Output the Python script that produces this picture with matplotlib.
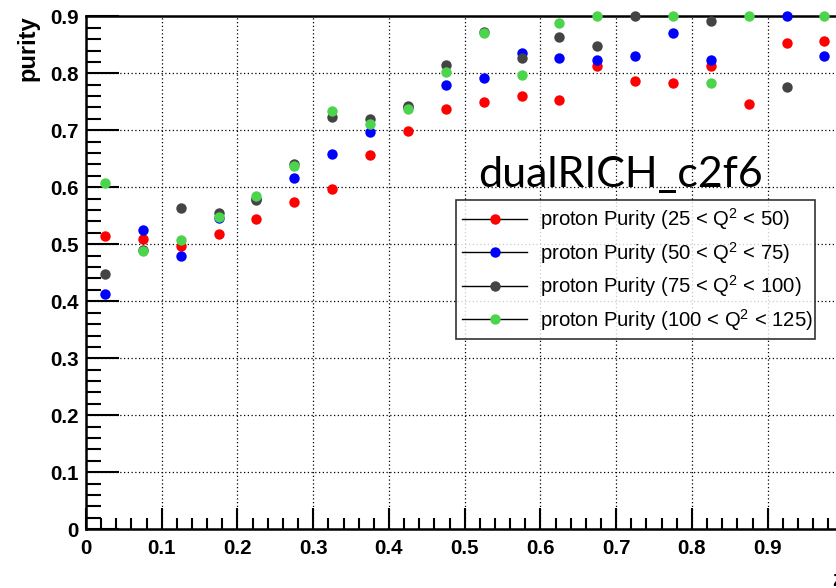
import numpy as np
import matplotlib
matplotlib.use("Agg")
import matplotlib.pyplot as plt
from matplotlib.lines import Line2D
from matplotlib.ticker import MultipleLocator

nan = np.nan
z_centers = [0.025, 0.075, 0.125, 0.175, 0.225, 0.275, 0.325, 0.375, 0.425, 0.475,
             0.525, 0.575, 0.625, 0.675, 0.725, 0.775, 0.825, 0.875, 0.925, 0.975]
purity_25_50 = [0.515, 0.509, 0.497, 0.518, 0.544, 0.575, 0.597, 0.656, 0.699, 0.737,
                0.749, 0.761, 0.754, 0.813, 0.787, 0.783, 0.813, 0.747, 0.854, 0.857]
purity_50_75 = [0.413, 0.525, 0.479, 0.546, 0.580, 0.616, 0.658, 0.697, 0.740, 0.780,
                0.792, 0.836, 0.826, 0.823, 0.830, 0.871, 0.823, nan, 0.900, 0.830]
purity_75_100 = [0.448, 0.490, 0.563, 0.555, 0.577, 0.641, 0.723, 0.720, 0.743, 0.815,
                 0.873, 0.826, 0.864, 0.848, 0.900, nan, 0.892, nan, 0.776, nan]
purity_100_125 = [0.608, 0.489, 0.508, 0.548, 0.585, 0.637, 0.734, 0.711, 0.737, 0.803,
                  0.871, 0.797, 0.888, 0.900, nan, 0.900, 0.783, 0.900, nan, 0.900]

series = [
    (purity_25_50, "#ff0000", "proton Purity (25 < Q$^2$ < 50)"),
    (purity_50_75, "#0000ff", "proton Purity (50 < Q$^2$ < 75)"),
    (purity_75_100, "#444444", "proton Purity (75 < Q$^2$ < 100)"),
    (purity_100_125, "#4cd44c", "proton Purity (100 < Q$^2$ < 125)"),
]

plt.rcParams['font.family'] = ['Liberation Sans', 'DejaVu Sans']
plt.rcParams['mathtext.fontset'] = 'custom'
plt.rcParams['mathtext.rm'] = 'Liberation Sans'
plt.rcParams['mathtext.it'] = 'Liberation Sans'

W, H = 837, 588
fig = plt.figure(figsize=(W / 100, H / 100), dpi=100)
x0, x1 = 86, 843.4
y0, y1 = 529.3, 16.3
ax = fig.add_axes([x0 / W, 1 - y0 / H, (x1 - x0) / W, (y0 - y1) / H])

for vals, col, lab in series:
    ax.plot(z_centers, vals, 'o', color=col, markersize=7.5, markeredgewidth=0,
            clip_on=False, zorder=3)

ax.set_xlim(0, 1.0)
ax.set_ylim(0, 0.9)
ax.xaxis.set_major_locator(MultipleLocator(0.1))
ax.xaxis.set_minor_locator(MultipleLocator(0.02))
ax.yaxis.set_major_locator(MultipleLocator(0.1))
ax.yaxis.set_minor_locator(MultipleLocator(0.02))

def fmt(v, pos):
    if abs(v) < 1e-9:
        return "0"
    if v > 0.95:
        return ""
    return f"{v:.1f}"
ax.xaxis.set_major_formatter(plt.FuncFormatter(fmt))
ax.yaxis.set_major_formatter(plt.FuncFormatter(fmt))

ax.tick_params(axis='both', which='both', direction='in', top=False, right=False,
               width=1.5, colors='black')
ax.tick_params(axis='y', which='major', length=24, pad=5, labelsize=14.8)
ax.tick_params(axis='y', which='minor', length=11)
ax.tick_params(axis='x', which='major', length=15, pad=7, labelsize=14.8)
ax.tick_params(axis='x', which='minor', length=8)
for lbl in ax.get_xticklabels() + ax.get_yticklabels():
    lbl.set_fontweight('bold')

for s in ax.spines.values():
    s.set_linewidth(1.8)
    s.set_color('black')

ax.grid(True, which='major', linestyle=(0, (1, 2)), color='black', linewidth=0.9)
ax.set_axisbelow(True)

handles = [Line2D([0], [0], color='black', linewidth=1.0, marker='o',
                  markerfacecolor=c, markeredgewidth=0, markersize=7.5)
           for _, c, _ in series]
labels = [lab for _, _, lab in series]
leg = ax.legend(handles, labels, loc='upper left',
                bbox_to_anchor=(0.4885, 0.3807, 0.474, 0.2613), mode='expand',
                fontsize=14.6, frameon=True, fancybox=False, handlelength=3.2,
                handletextpad=0.62, labelspacing=0.38, borderpad=0.3,
                borderaxespad=0)
leg.get_frame().set_edgecolor('black')
leg.get_frame().set_linewidth(1.2)
leg.set_zorder(5)

fig.text(478 / W, 1 - 187 / H, "dualRICH_c2f6", fontsize=31, family=['Lato', 'DejaVu Sans'],
         ha='left', va='baseline')

fig.text(27.5 / W, 1 - 15 / H, "purity", rotation=90, fontsize=17, fontweight='bold',
         ha='center', va='top')
ax.text(1.0, -0.08, "z", transform=ax.transAxes, fontsize=16, fontweight='bold',
        ha='right', va='top')

fig.savefig("out.png", dpi=100)
